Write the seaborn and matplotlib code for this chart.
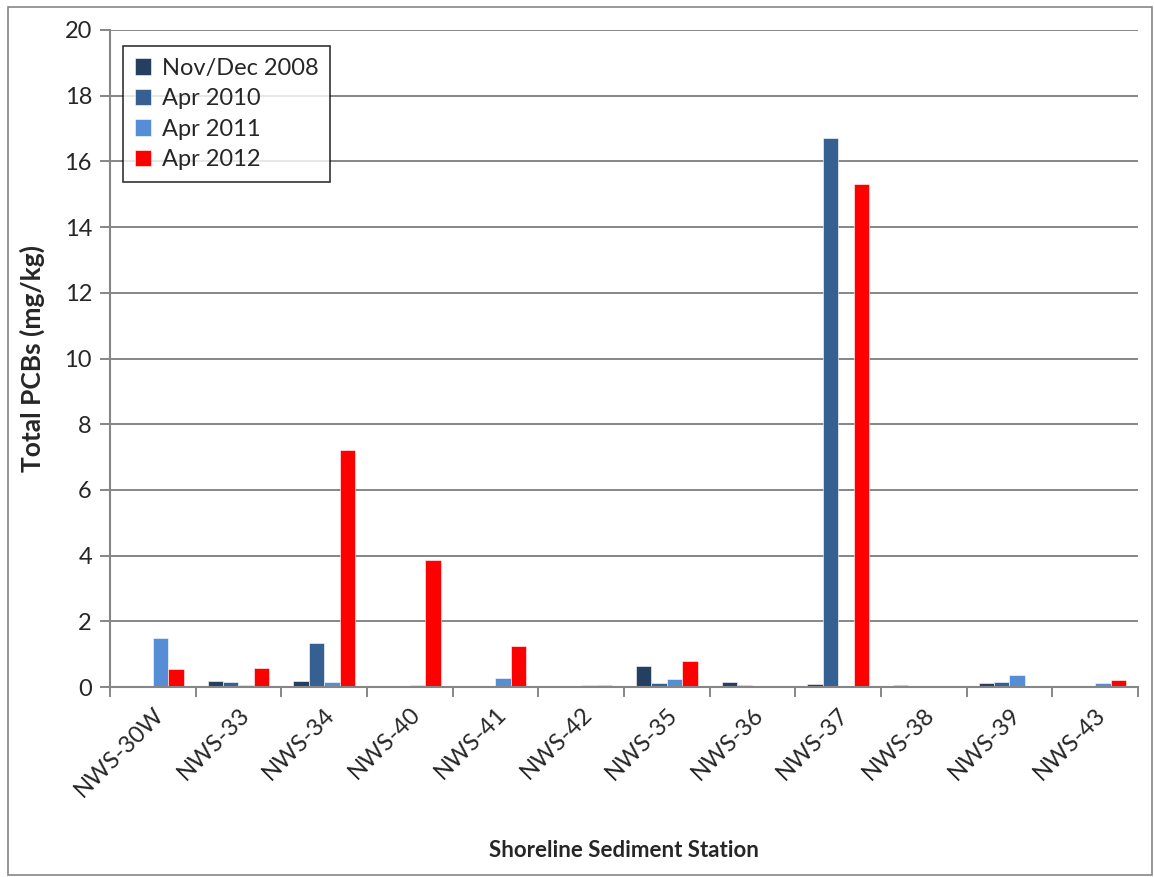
import matplotlib.pyplot as plt
import matplotlib.patches as mpatches
from matplotlib.ticker import FixedLocator, NullFormatter
import numpy as np
import pandas as pd
import seaborn as sns

# stations along the shoreline
stations = ['NWS-30W', 'NWS-33', 'NWS-34', 'NWS-40', 'NWS-41', 'NWS-42',
            'NWS-35', 'NWS-36', 'NWS-37', 'NWS-38', 'NWS-39', 'NWS-43']
surveys = ['Nov/Dec 2008', 'Apr 2010', 'Apr 2011', 'Apr 2012']

# total PCBs (mg/kg), NaN = no sample
nov_dec_2008 = [np.nan, 0.17, 0.18, np.nan, np.nan, np.nan, 0.64, 0.15, 0.10, 0.05, 0.12, np.nan]
apr_2010 = [np.nan, 0.16, 1.35, np.nan, np.nan, np.nan, 0.12, 0.06, 16.7, 0.03, 0.14, np.nan]
apr_2011 = [1.49, 0.06, 0.16, 0.07, 0.28, 0.05, 0.23, np.nan, 0.03, np.nan, 0.38, 0.12]
apr_2012 = [0.54, 0.58, 7.22, 3.87, 1.26, 0.05, 0.79, np.nan, 15.32, np.nan, 0.03, 0.21]

colors = ['#243F60', '#366092', '#558ED5', '#FF0000']

rows = []
for name, vals in zip(surveys, [nov_dec_2008, apr_2010, apr_2011, apr_2012]):
    for st, v in zip(stations, vals):
        rows.append([st, name, v])
df = pd.DataFrame(rows, columns=['station', 'survey', 'pcb'])

sns.set_theme(style="white")
plt.rcParams['font.family'] = ['Lato', 'DejaVu Sans']

fig = plt.figure(figsize=(11.54, 8.77), dpi=100)
ax = fig.add_axes([110/1154, 1 - 687/877, 1028/1154, 657/877])

sns.barplot(data=df, x='station', y='pcb', hue='survey', order=stations,
            hue_order=surveys, palette=colors, width=0.72, saturation=1,
            edgecolor='white', linewidth=0.4, ax=ax)

grey = '#868686'
ax.set_ylim(0, 20)
ax.set_yticks(range(0, 21, 2))
ax.set_xlim(-0.5, len(stations) - 0.5)
ax.grid(axis='y', color=grey, linewidth=1.4)
ax.set_axisbelow(True)
for s in ['top', 'right']:
    ax.spines[s].set_visible(False)
for s in ['left', 'bottom']:
    ax.spines[s].set_color(grey)
    ax.spines[s].set_linewidth(1.5)

ax.tick_params(axis='y', labelsize=17, length=7, width=1.4, color=grey, left=True, pad=6)
ax.tick_params(axis='x', which='major', length=0, labelsize=17, pad=12)
ax.xaxis.set_minor_locator(FixedLocator(np.arange(-0.5, len(stations), 1)))
ax.xaxis.set_minor_formatter(NullFormatter())
ax.tick_params(axis='x', which='minor', bottom=True, length=7, width=1.4, color=grey)
plt.setp(ax.get_xticklabels(), rotation=45, ha='right', rotation_mode='anchor')

ax.set_xlabel('Shoreline Sediment Station', fontsize=16, fontweight='bold', labelpad=28)
ax.set_ylabel('Total PCBs (mg/kg)', fontsize=19, fontweight='bold', labelpad=14)

leg = ax.legend(loc='upper left', bbox_to_anchor=(0.0126, 0.9756), borderaxespad=0,
                fontsize=17, frameon=True, fancybox=False, edgecolor='black',
                handlelength=0.7, handleheight=0.7, handletextpad=0.45,
                labelspacing=0.4, borderpad=0.5)
leg.get_frame().set_linewidth(1.2)
leg.set_title(None)

# border around the chart area
fig.patches.append(mpatches.Rectangle((8/1154, 0.002), 1 - 10/1154, 1 - 9/877,
                                      transform=fig.transFigure, fill=False,
                                      edgecolor=grey, linewidth=1.2))

fig.savefig('out.png', dpi=100)
